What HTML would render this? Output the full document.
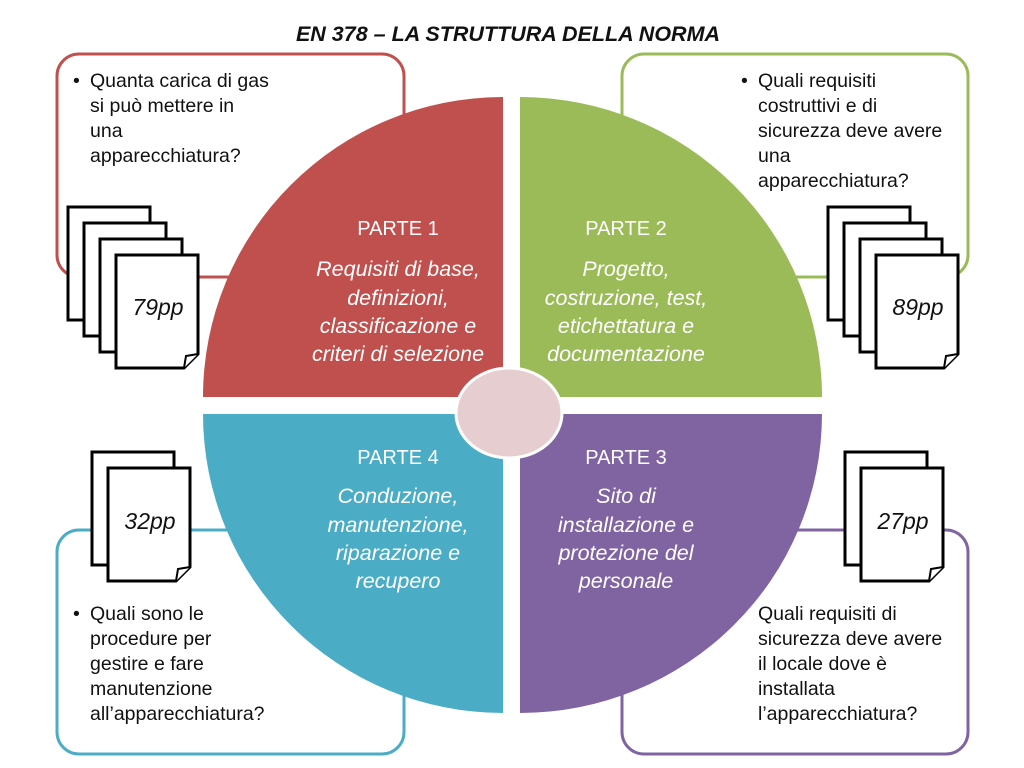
<!DOCTYPE html>
<html><head><meta charset="utf-8"><style>
html,body{margin:0;padding:0;background:#fff;}
svg{display:block;}
text{font-family:"Liberation Sans",sans-serif;}
.q{font-size:19.5px;fill:#111;}
.h{font-size:20px;fill:#fff;}
.d{font-size:21.5px;fill:#fff;font-style:italic;}
.pp{font-size:23px;font-style:italic;fill:#111;}
</style></head><body>
<svg width="1024" height="768" viewBox="0 0 1024 768" xmlns="http://www.w3.org/2000/svg">
<defs>
<g id="pg">
<path d="M0 0H82V99L68 113H0Z" fill="#fff" stroke="#000" stroke-width="3"/>
<path d="M68 113L70 101L82 99" fill="#fff" stroke="#000" stroke-width="2"/>
</g>
</defs>
<text x="508" y="41" text-anchor="middle" font-size="21.5" font-weight="bold" font-style="italic" fill="#111">EN 378 – LA STRUTTURA DELLA NORMA</text>
<!-- boxes -->
<rect x="57" y="54" width="347" height="223" rx="22" fill="#fff" stroke="#C0504D" stroke-width="3"/>
<rect x="622" y="54" width="346" height="223" rx="22" fill="#fff" stroke="#9BBB59" stroke-width="3"/>
<rect x="57" y="530" width="347" height="224" rx="22" fill="#fff" stroke="#4BACC6" stroke-width="3"/>
<rect x="622" y="530" width="346" height="224" rx="22" fill="#fff" stroke="#8064A2" stroke-width="3"/>
<!-- quadrants -->
<path d="M503 397V97A300 300 0 0 0 203 397Z" fill="#C0504D"/>
<path d="M520 397V97A302 300 0 0 1 822 397Z" fill="#9BBB59"/>
<path d="M503 414V713A300 299 0 0 1 203 414Z" fill="#4BACC6"/>
<path d="M520 414V713A302 299 0 0 0 822 414Z" fill="#8064A2"/>
<ellipse cx="509" cy="413" rx="53" ry="45" fill="#E6CDD0" stroke="#fff" stroke-width="3"/>
<!-- quadrant text -->
<g text-anchor="middle">
<text class="h" x="398" y="235">PARTE 1</text>
<text class="d" x="398" y="276">Requisiti di base,</text>
<text class="d" x="398" y="305">definizioni,</text>
<text class="d" x="398" y="333">classificazione e</text>
<text class="d" x="398" y="361">criteri di selezione</text>
<text class="h" x="626" y="235">PARTE 2</text>
<text class="d" x="626" y="276">Progetto,</text>
<text class="d" x="626" y="305">costruzione, test,</text>
<text class="d" x="626" y="333">etichettatura e</text>
<text class="d" x="626" y="361">documentazione</text>
<text class="h" x="398" y="464">PARTE 4</text>
<text class="d" x="398" y="503">Conduzione,</text>
<text class="d" x="398" y="532">manutenzione,</text>
<text class="d" x="398" y="560">riparazione e</text>
<text class="d" x="398" y="588">recupero</text>
<text class="h" x="626" y="464">PARTE 3</text>
<text class="d" x="626" y="503">Sito di</text>
<text class="d" x="626" y="532">installazione e</text>
<text class="d" x="626" y="560">protezione del</text>
<text class="d" x="626" y="588">personale</text>
</g>
<!-- box text -->
<text class="q" x="73" y="87">•</text>
<text class="q" x="90" y="87">Quanta carica di gas</text>
<text class="q" x="90" y="112">si può mettere in</text>
<text class="q" x="90" y="137">una</text>
<text class="q" x="90" y="162">apparecchiatura?</text>
<text class="q" x="741" y="87">•</text>
<text class="q" x="758" y="87">Quali requisiti</text>
<text class="q" x="758" y="112">costruttivi e di</text>
<text class="q" x="758" y="137">sicurezza deve avere</text>
<text class="q" x="758" y="162">una</text>
<text class="q" x="758" y="187">apparecchiatura?</text>
<text class="q" x="73" y="620">•</text>
<text class="q" x="90" y="620">Quali sono le</text>
<text class="q" x="90" y="645">procedure per</text>
<text class="q" x="90" y="670">gestire e fare</text>
<text class="q" x="90" y="695">manutenzione</text>
<text class="q" x="90" y="720">all’apparecchiatura?</text>
<text class="q" x="758" y="620">Quali requisiti di</text>
<text class="q" x="758" y="645">sicurezza deve avere</text>
<text class="q" x="758" y="670">il locale dove è</text>
<text class="q" x="758" y="695">installata</text>
<text class="q" x="758" y="720">l’apparecchiatura?</text>
<!-- page stacks -->
<use href="#pg" x="68" y="207"/><use href="#pg" x="84" y="223"/><use href="#pg" x="100" y="239"/><use href="#pg" x="116" y="255"/>
<text class="pp" x="158" y="315" text-anchor="middle">79pp</text>
<use href="#pg" x="828" y="207"/><use href="#pg" x="844" y="223"/><use href="#pg" x="860" y="239"/><use href="#pg" x="876" y="255"/>
<text class="pp" x="918" y="315" text-anchor="middle">89pp</text>
<use href="#pg" x="92" y="452"/><use href="#pg" x="108" y="468"/>
<text class="pp" x="150" y="529" text-anchor="middle">32pp</text>
<use href="#pg" x="845" y="452"/><use href="#pg" x="861" y="468"/>
<text class="pp" x="903" y="529" text-anchor="middle">27pp</text>
</svg>
</body></html>
